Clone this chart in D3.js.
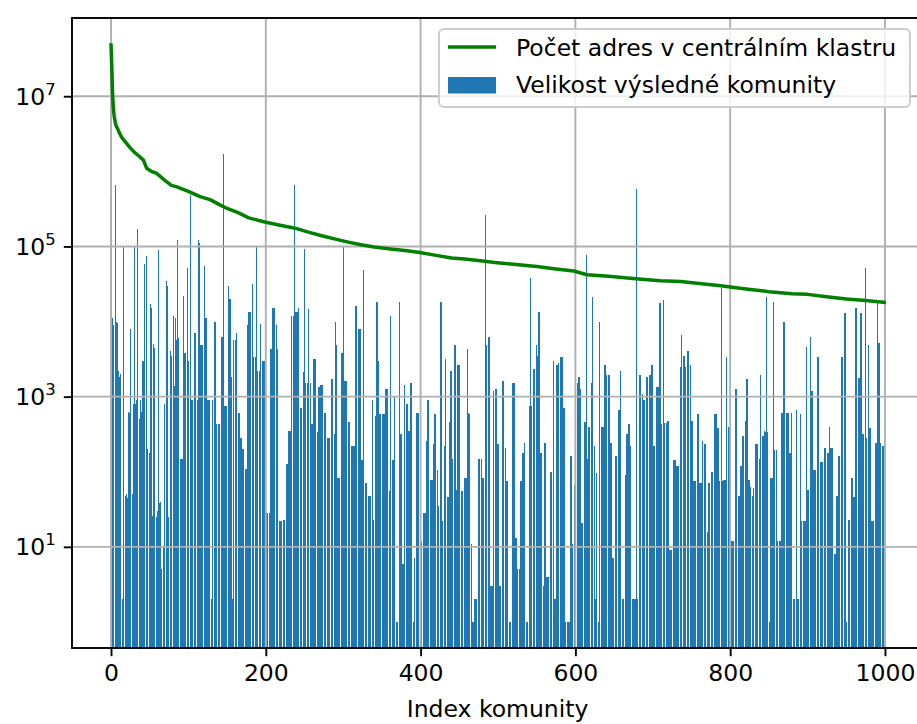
<!DOCTYPE html>
<html>
<head>
<meta charset="utf-8">
<script src="https://cdn.jsdelivr.net/npm/d3@7"></script>
<style>
  body { margin: 0; background: #fff; }
  svg { display: block; font-family: "DejaVu Sans", sans-serif; }
</style>
</head>
<body>
<svg width="917" height="724"></svg>
<script>
// Velikost výsledné komunity, one value per community index 0..999
const communitySizes = [
  10000, 500000, 11000, 9000, 10000, 12000, 650000, 10000, 9500, 2000,
  2200, 1800, 2000, 5, 5, 2, 100000, 20, 2, 48,
  50, 45, 40, 630, 600, 8000, 650, 50, 50, 800,
  100000, 800, 800, 900, 170000, 800, 500, 500, 900, 630,
  700, 3000, 3000, 58000, 3000, 20000, 74000, 200, 220, 180,
  180, 17000, 15000, 26, 26, 5000, 4500, 25, 25, 25,
  30, 90000, 40, 38, 40, 5, 5, 5, 10, 800,
  800, 750, 35000, 30000, 25, 25, 4000, 4000, 3500, 180,
  180, 12000, 1400, 11000, 1500, 5700, 120000, 6000, 150, 150,
  150, 150, 150, 22000, 22000, 3800, 3800, 3800, 3800, 51000,
  3000, 3000, 900, 480000, 900, 900, 8000, 8000, 7000, 7000,
  7000, 2, 900, 120000, 110000, 9000, 4800, 4800, 4800, 4800,
  4800, 55000, 11000, 11000, 11000, 900, 900, 900, 2, 2,
  2, 900, 900, 900, 10000, 10000, 430, 430, 430, 430,
  430, 1250, 1250, 6300, 6300, 1700000, 750, 750, 750, 750,
  750, 30000, 30000, 20000, 20000, 1800, 1800, 2, 5700, 5700,
  5700, 5700, 7000, 7000, 7000, 600, 600, 280, 280, 280,
  200, 200, 200, 110, 110, 110, 9000, 9000, 13500, 13500,
  13500, 13500, 32000, 32000, 3400, 3400, 3400, 3400, 100000, 2200,
  2200, 2200, 2200, 9300, 9300, 9300, 3000, 3000, 3000, 28,
  28, 28, 28, 28, 28, 28, 4300, 4300, 5700, 15000,
  15000, 15000, 9000, 9000, 9000, 4300, 4300, 4300, 22, 22,
  22, 22, 23, 23, 23, 66, 66, 125, 125, 350,
  350, 350, 350, 12000, 12000, 12000, 12000, 660000, 13500, 13500,
  13500, 13500, 15000, 15000, 15000, 700, 700, 2100, 2100, 2100,
  93000, 1500, 1500, 1500, 1500, 14500, 14500, 1500, 1500, 430,
  430, 430, 3200, 3200, 3200, 340, 340, 340, 1350, 1350,
  1350, 1450, 1450, 1450, 1200, 1200, 600, 600, 24500, 24500,
  280, 280, 280, 280, 280, 1700, 1700, 320, 320, 320,
  10000, 4800, 4800, 83, 83, 83, 1350, 1350, 3800, 3800,
  100000, 3800, 1600, 1600, 1600, 1600, 460, 460, 460, 8000,
  8000, 220, 220, 220, 220, 220, 16000, 16000, 15000, 15000,
  8000, 8000, 8000, 145, 145, 145, 48000, 145, 70, 70,
  70, 48, 48, 48, 48, 48, 900, 900, 900, 23,
  23, 550, 550, 18000, 18000, 3000, 3000, 580, 580, 580,
  580, 580, 580, 580, 1250, 1250, 1250, 1250, 55, 55,
  55, 12000, 12000, 110, 145, 145, 1000, 1000, 1000, 1,
  1, 18000, 18000, 18000, 320, 320, 6, 6, 6, 1450,
  175, 1450, 800, 800, 350, 350, 350, 1500, 1500, 350,
  350, 1, 7, 7, 600, 600, 600, 600, 12, 12,
  12, 12, 10700, 10700, 28, 28, 28, 260, 260, 900,
  900, 900, 78, 78, 78, 78, 235, 235, 580, 580,
  580, 107, 107, 35, 35, 35, 18000, 18000, 22, 22,
  22, 220, 3200, 3200, 3200, 46, 46, 460, 460, 2200,
  2200, 150, 150, 150, 4800, 4800, 58, 58, 2600, 2600,
  2600, 900, 900, 55, 55, 55, 800, 83, 83, 83,
  4300, 4300, 600, 580, 11, 11, 11, 1, 1, 2,
  2, 2, 2, 1950, 1950, 150, 150, 150, 150, 150,
  83, 83, 83, 4800, 260000, 4800, 4800, 6200, 6200, 6200,
  3, 3, 3, 3, 1200, 1200, 1250, 1250, 1250, 235,
  235, 235, 3, 3, 3400, 3400, 1600, 1600, 1600, 210,
  210, 75, 75, 75, 1, 1, 1, 1, 1, 1500,
  1500, 1500, 13, 13, 13, 5, 5, 5, 5, 75,
  75, 75, 175, 175, 245, 245, 245, 1, 1, 1,
  1, 740, 38000, 740, 740, 2300, 2300, 2300, 4800, 4800,
  4800, 3500, 13500, 13500, 13500, 180, 180, 3, 3, 3,
  245, 245, 4, 4, 4, 4, 3200, 3200, 100, 100,
  100, 3000, 3000, 2, 2, 2, 2600, 2600, 2800, 40000,
  2800, 3400, 3400, 3400, 700, 700, 700, 1, 1, 1,
  1, 1, 1, 1, 160, 160, 11, 11, 11, 66,
  66, 66, 1500, 1500, 1800, 1800, 1250, 1250, 21, 21,
  21, 460, 460, 460, 78000, 150, 150, 400, 400, 400,
  1500, 1500, 21000, 21000, 220, 220, 2, 95, 95, 95,
  1, 10000, 10000, 10000, 400, 400, 400, 400, 2600, 2600,
  1950, 1950, 1950, 1950, 1950, 245, 245, 245, 7, 7,
  700, 700, 160, 160, 160, 660, 660, 660, 2200, 2200,
  2200, 2, 2, 90, 90, 90, 320, 320, 430, 430,
  430, 220, 220, 220, 2, 2, 2, 2, 2, 580000,
  2, 2, 2, 1950, 1950, 1100, 1100, 1100, 900, 900,
  900, 900, 1800, 1800, 1800, 1950, 1950, 1950, 2600, 2600,
  2600, 220, 220, 220, 220, 1350, 1350, 1350, 17500, 17500,
  17500, 430, 430, 19500, 19500, 450, 450, 450, 450, 480,
  480, 480, 9, 9, 9, 9, 9, 145, 145, 145,
  145, 120, 120, 120, 120, 2500, 2500, 6600, 6600, 3500,
  3500, 3500, 2500, 2500, 2500, 4000, 4000, 2600, 2600, 2600,
  480, 480, 480, 75, 75, 75, 75, 75, 580, 580,
  70, 70, 70, 70, 260, 260, 260, 235, 235, 16,
  16, 16, 70, 70, 70, 70, 100, 100, 7000, 7000,
  580, 580, 580, 380, 380, 380, 75, 75, 75, 28000,
  75, 78, 78, 78, 78, 3400, 3400, 400, 400, 400,
  12, 12, 12, 12, 12, 800, 800, 1250, 1250, 1250,
  48, 48, 48, 120, 120, 120, 300, 300, 480, 480,
  480, 1700, 1700, 78, 78, 78, 62, 62, 62, 48,
  60, 60, 830, 235, 235, 235, 150, 150, 150, 1950,
  1950, 1950, 300, 300, 350, 340, 340, 21000, 340, 340,
  1, 1, 83, 83, 83, 83, 18000, 195, 195, 195,
  195, 12, 12, 12, 12, 12, 600, 600, 600, 10000,
  10000, 1250, 1250, 600, 600, 600, 180, 180, 180, 600,
  600, 2, 2, 2, 2, 660, 660, 2, 2, 2,
  580, 580, 22, 22, 22, 22, 22, 22, 4600, 4600,
  58, 58, 58, 6200, 6200, 1200, 1200, 1200, 107, 107,
  107, 107, 107, 3400, 3400, 150, 150, 135, 135, 135,
  220, 220, 210, 210, 210, 180, 180, 180, 400, 400,
  210, 210, 210, 2100, 2100, 8, 8, 48, 48, 48,
  160, 160, 4, 4, 3400, 3400, 1, 1, 13000, 13000,
  1, 1, 1, 23, 23, 23, 83, 83, 83, 46,
  46, 46, 15000, 15000, 1750, 1750, 1750, 1750, 13000, 13000,
  13000, 320, 320, 320, 320, 51000, 280, 4800, 4800, 4800,
  380, 380, 380, 22, 22, 22, 245, 245, 245, 245,
  17500, 17500, 5100, 5100, 245, 245, 245, 220, 220, 220
];

// Počet adres v centrálním klastru, sampled along the curve
const centralIndex = [0, 1, 2, 3, 4, 6, 10, 14, 18, 24, 30, 36, 42, 46, 52, 58, 64, 70, 78, 85,
  100, 115, 128, 140, 150, 165, 178, 200, 220, 238, 255, 271, 290, 305, 323, 340, 364, 380, 399,
  420, 440, 457, 480, 496, 520, 550, 575, 598, 615, 643, 678, 710, 736, 760, 788, 810, 829, 850,
  880, 900, 922, 950, 975, 999];
const centralSize = [48000000, 25000000, 11000000, 7000000, 5500000, 4200000, 3400000, 2800000,
  2500000, 2100000, 1800000, 1600000, 1400000, 1100000, 1000000, 950000, 850000, 750000, 650000,
  620000, 540000, 460000, 420000, 360000, 320000, 280000, 240000, 210000, 190000, 175000, 155000,
  140000, 125000, 115000, 105000, 98000, 92000, 88000, 83000, 76000, 70000, 68000, 64000, 61000,
  58000, 54000, 50000, 47000, 42000, 40000, 37000, 35000, 34000, 32000, 30000, 28000, 26500,
  25000, 23500, 23000, 21500, 20000, 19000, 18000];

const xTicks = [0, 200, 400, 600, 800, 1000];
const yTickExps = [1, 3, 5, 7];
const legendLabels = ["Počet adres v centrálním klastru", "Velikost výsledné komunity"];
const xLabelText = "Index komunity";

const barColor = "#1f77b4";
const lineColor = "green";
const gridColor = "#b0b0b0";

const plotLeft = 72, plotRight = 923.2, plotTop = 18, plotBottom = 648;
const fontSize = 23.5;
const barWidth = 0.8;

const svg = d3.select("svg");

const x = d3.scaleLinear([-50.4, 1049.4], [plotLeft, plotRight]);
const y = d3.scaleLog([0.45, 1.1e8], [plotBottom, plotTop]);

svg.append("defs").append("clipPath")
    .attr("id", "plotClip")
    .append("rect")
    .attr("x", plotLeft).attr("y", plotTop)
    .attr("width", plotRight - plotLeft).attr("height", plotBottom - plotTop);

const plot = svg.append("g").attr("clip-path", "url(#plotClip)");

// Bars: edges rounded to whole pixels like the raster renderer does,
// so some sub-pixel bars collapse and thin white columns show through
const bars = communitySizes.map(function(d, i) {
    return {
        value: d,
        x0: Math.round(x(i - barWidth / 2)),
        x1: Math.round(x(i + barWidth / 2))
    };
}).filter(function(b) {
    return b.x1 > b.x0;
});

plot.append("g")
    .attr("shape-rendering", "crispEdges")
    .selectAll("rect")
    .data(bars)
    .enter()
        .append("rect")
        .attr("x", function(d) { return d.x0; })
        .attr("width", function(d) { return d.x1 - d.x0; })
        .attr("y", function(d) { return Math.round(y(d.value)); })
        .attr("height", function(d) { return plotBottom - Math.round(y(d.value)); })
        .attr("fill", barColor);

// Grid
const grid = plot.append("g")
    .attr("stroke", gridColor)
    .attr("stroke-width", 1.9);

grid.selectAll("line.vx")
    .data(xTicks)
    .enter()
        .append("line")
        .attr("x1", function(d) { return x(d); })
        .attr("x2", function(d) { return x(d); })
        .attr("y1", plotTop).attr("y2", plotBottom);

grid.selectAll("line.hy")
    .data(yTickExps)
    .enter()
        .append("line")
        .attr("y1", function(d) { return y(Math.pow(10, d)); })
        .attr("y2", function(d) { return y(Math.pow(10, d)); })
        .attr("x1", plotLeft).attr("x2", plotRight);

// Central cluster line
const line = d3.line()
    .x(function(d, i) { return x(centralIndex[i]); })
    .y(function(d) { return y(d); });

plot.append("path")
    .datum(centralSize)
    .attr("d", line)
    .attr("fill", "none")
    .attr("stroke", lineColor)
    .attr("stroke-width", 3.5)
    .attr("stroke-linejoin", "round")
    .attr("stroke-linecap", "square");

// X Axis
const xAxis = d3.axisBottom(x)
    .tickValues(xTicks)
    .tickSize(8.2)
    .tickPadding(8.2)
    .tickFormat(d3.format("d"));

svg.append("g")
    .attr("transform", "translate(0," + plotBottom + ")")
    .call(xAxis)
    .call(function(g) {
        g.select(".domain").remove();
        g.selectAll("line").attr("stroke", "#000").attr("stroke-width", 1.9);
        g.selectAll("text")
            .attr("font-family", "DejaVu Sans")
            .attr("font-size", fontSize)
            .attr("fill", "#000");
    });

// Y Axis
const yAxis = d3.axisLeft(y)
    .tickValues(yTickExps.map(function(e) { return Math.pow(10, e); }))
    .tickSize(8.2)
    .tickFormat("");

const yAxisG = svg.append("g")
    .attr("transform", "translate(" + plotLeft + ",0)")
    .call(yAxis)
    .call(function(g) {
        g.select(".domain").remove();
        g.selectAll("line").attr("stroke", "#000").attr("stroke-width", 1.9);
    });

yAxisG.selectAll("text.lbl")
    .data(yTickExps)
    .enter()
        .append("text")
        .attr("class", "lbl")
        .attr("x", -16.4)
        .attr("y", function(d) { return y(Math.pow(10, d)) + 8.5; })
        .attr("text-anchor", "end")
        .attr("font-family", "DejaVu Sans")
        .attr("font-size", fontSize)
        .attr("fill", "#000")
        .each(function(d) {
            const t = d3.select(this);
            t.append("tspan").text("10");
            t.append("tspan")
                .attr("dy", -10)
                .attr("font-size", fontSize * 0.7)
                .text(d);
        });

// Spines
svg.append("rect")
    .attr("x", plotLeft).attr("y", plotTop)
    .attr("width", plotRight - plotLeft).attr("height", plotBottom - plotTop)
    .attr("fill", "none")
    .attr("stroke", "#000")
    .attr("stroke-width", 1.9);

// X label
svg.append("text")
    .attr("x", (plotLeft + plotRight) / 2)
    .attr("y", 717)
    .attr("text-anchor", "middle")
    .attr("font-size", fontSize)
    .attr("fill", "#000")
    .text(xLabelText);

// Legend
const legend = svg.append("g");
legend.append("rect")
    .attr("x", 439).attr("y", 29)
    .attr("width", 471).attr("height", 78)
    .attr("rx", 5)
    .attr("fill", "#fff").attr("fill-opacity", 0.8)
    .attr("stroke", "#cccccc").attr("stroke-width", 1.9);

legend.append("line")
    .attr("x1", 448).attr("x2", 496)
    .attr("y1", 47).attr("y2", 47)
    .attr("stroke", lineColor).attr("stroke-width", 3.5);

legend.append("rect")
    .attr("x", 448).attr("y", 77)
    .attr("width", 48).attr("height", 16.5)
    .attr("fill", barColor);

legend.selectAll("text")
    .data(legendLabels)
    .enter()
        .append("text")
        .attr("x", 516)
        .attr("y", function(d, i) { return 55.5 + i * 37.5; })
        .attr("font-size", fontSize)
        .attr("fill", "#000")
        .text(function(d) { return d; });
</script>
</body>
</html>
